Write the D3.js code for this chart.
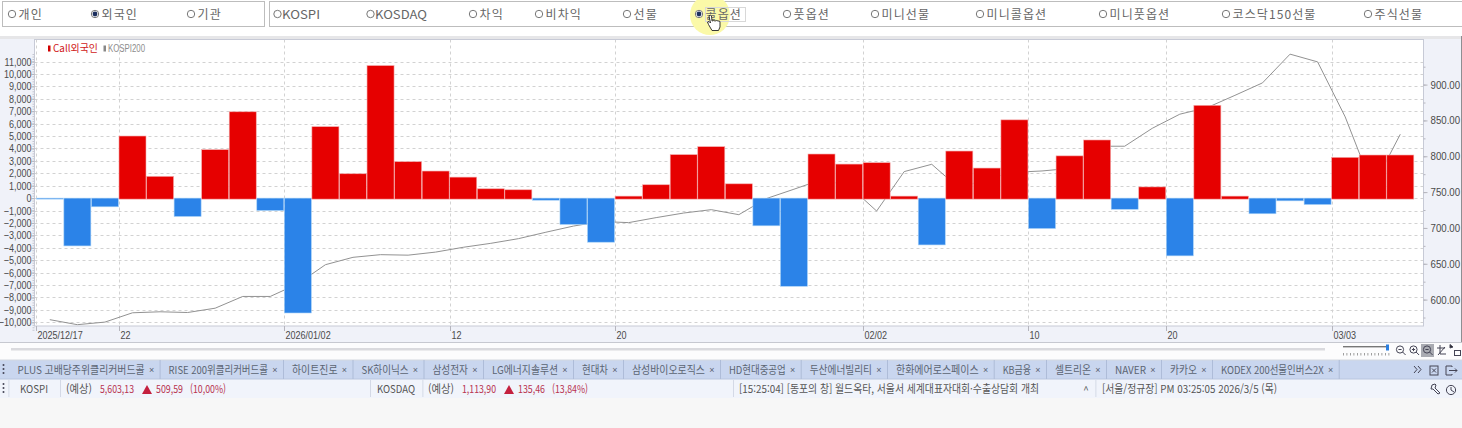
<!DOCTYPE html>
<html lang="ko"><head><meta charset="utf-8">
<style>
html,body{margin:0;padding:0;background:#f7f7f7;overflow:hidden}
svg{display:block}
text{font-family:"Noto Sans CJK KR","Liberation Sans",sans-serif;fill:#444}
.num text,text.num{font-family:"Liberation Sans","DejaVu Sans",sans-serif}
</style>
<script src="https://cdn.jsdelivr.net/npm/d3@7/dist/d3.min.js"></script>
</head><body><svg id="c" width="1462" height="428"></svg>
<script>
const dates=["2025-12-17","2025-12-18","2025-12-19","2025-12-22","2025-12-23","2025-12-24","2025-12-26","2025-12-29","2025-12-30","2026-01-02","2026-01-05","2026-01-06","2026-01-07","2026-01-08","2026-01-09","2026-01-12","2026-01-13","2026-01-14","2026-01-15","2026-01-16","2026-01-19","2026-01-20","2026-01-21","2026-01-22","2026-01-23","2026-01-26","2026-01-27","2026-01-28","2026-01-29","2026-01-30","2026-02-02","2026-02-03","2026-02-04","2026-02-05","2026-02-06","2026-02-09","2026-02-10","2026-02-11","2026-02-12","2026-02-13","2026-02-19","2026-02-20","2026-02-23","2026-02-24","2026-02-25","2026-02-26","2026-02-27","2026-03-03","2026-03-04","2026-03-05"];
const callForeign=[-50,-3850,-700,5000,1750,-1480,3900,6950,-1000,-9250,5750,1960,10670,2930,2180,1690,750,670,-170,-2120,-3550,160,1075,3500,4140,1150,-2230,-7100,3550,2740,2850,160,-3770,3790,2420,6300,-2450,3400,4680,-900,900,-4650,7470,160,-1260,-220,-520,3280,3470,3470];
const kospi200=[572,565,568.6,581.6,583,582,588,604.4,604.4,622,648.7,659,662.7,662,666.3,673,678.5,685,694,702.6,709,707.4,714.4,720.8,725.5,718.5,741,754,767.4,758.6,723.6,778.6,788.8,755,769,777.6,779.5,783,814,814,839,858.7,868,885,902.4,942.5,931.7,855,756.7,830.7];
const tickDates=["2025-12-17","2025-12-22","2026-01-02","2026-01-12","2026-01-20","2026-02-02","2026-02-10","2026-02-20","2026-03-03"];
const tickLabels=["2025/12/17","22","2026/01/02","12","20","02/02","10","20","03/03"];
const leftTicks=d3.range(-10000,11001,1000);
const leftMinor=d3.range(-10600,11800,200);
const rightTicks=[600,650,700,750,800,850,900];
const rightMinor=d3.range(575,950,25);
const radioA=[["개인",12,0],["외국인",95,1],["기관",191,0]];
const radioB=[["KOSPI",277.5,0,38],["KOSDAQ",370.5,0,52],["차익",473,0],["비차익",539,0],["선물",627,0],["콜옵션",699,1],["풋옵션",787,0],["미니선물",875,0],["미니콜옵션",980,0],["미니풋옵션",1103,0],["코스닥150선물",1226,0],["주식선물",1368,0]];
const tabs=["PLUS 고배당주위클리커버드콜","RISE 200위클리커버드콜","하이트진로","SK하이닉스","삼성전자","LG에너지솔루션","현대차","삼성바이오로직스","HD현대중공업","두산에너빌리티","한화에어로스페이스","KB금융","셀트리온","NAVER","카카오","KODEX 200선물인버스2X"];
const tabEnds=[159.6,283,352.5,423.5,483,573,623,720,800.7,887,993.7,1046,1106,1161,1212,1338.7];

const svg=d3.select("#c");
const rect=(x,y,w,h,f,s)=>svg.append("rect").attr("x",x).attr("y",y).attr("width",w).attr("height",h).attr("fill",f).attr("stroke",s||"none");
const txt=(x,y,t,o={})=>{const e=svg.append("text").attr("x",x).attr("y",y).text(t).attr("font-size",o.s||11).attr("text-anchor",o.a||"start").attr("class",o.c||null).style("fill",o.f||"#555").style("letter-spacing",o.l||null);
  if(o.w)e.attr("textLength",o.w).attr("lengthAdjust","spacingAndGlyphs");return e;};
const m={l:34.5,r:1423.5,t:39.5,b:326};
// page regions
rect(0,0,1462,36,"#fff");
rect(0,36,1462,3,"#e6e6e8");
rect(0,39,1462,303,"#f0f2f9");
rect(0,342,1462,18,"#fcfcfd");
svg.append("line").attr("x1",0).attr("x2",1462).attr("y1",342.5).attr("y2",342.5).attr("stroke","#c6c8d0");
rect(11,348,1314,2.5,"#dadade");
rect(0,360,1462,19,"#c9d6ef");
rect(0,379,1462,19,"#f1f4fb");
rect(0,359.5,1462,1,"#d4d8e0");
rect(0,378.5,1462,1,"#b9c6e0");

// control boxes
rect(2.5,1.5,262,25,"#fff","#bdbdbd");
rect(269.5,1.5,1194,25,"#fff","#bdbdbd");
svg.append("circle").attr("cx",710).attr("cy",15).attr("r",20).attr("fill","#fbf9a8");
rect(705.5,7.5,40,14,"none","#d8d8d8");
[...radioA,...radioB].forEach(([t,x,on,w])=>{
  svg.append("circle").attr("cx",x).attr("cy",14).attr("r",3.7).attr("fill",w?"none":"#fff").attr("stroke","#777").attr("stroke-width",1);
  if(on)svg.append("circle").attr("cx",x).attr("cy",14).attr("r",2.4).attr("fill","#1c2f5e");
  w?txt(x+4.5,18.5,t,{s:12,f:"#666",w}):txt(x+6.5,18.5,t,{s:12,l:"1.1px",f:"#666"});
});

// scales
const x=d3.scaleBand().domain(dates).range([36.3,1413.8]).paddingInner(0.02).paddingOuter(0);
const y=d3.scaleLinear().domain([-10000,11000]).range([322.3,61.5]);
const yr=d3.scaleLinear().domain([600,900]).range([299.6,84.6]);
rect(m.l,m.t,m.r-m.l,m.b-m.t,"#fff");
// grid
const grid=svg.append("g").attr("stroke","#d2d2d2").attr("stroke-dasharray","3,3").attr("stroke-width",1);
leftTicks.forEach(v=>grid.append("line").attr("x1",m.l).attr("x2",m.r).attr("y1",Math.round(y(v))+.5).attr("y2",Math.round(y(v))+.5));
tickDates.forEach(d=>grid.append("line").attr("x1",Math.round(x(d))+.5).attr("x2",Math.round(x(d))+.5).attr("y1",m.t).attr("y2",m.b));
// line under bars
svg.append("path").datum(kospi200).attr("fill","none").attr("stroke","#929292").attr("stroke-width",1)
 .attr("d",d3.line().x((d,i)=>x(dates[i])+x.bandwidth()/2).y(d=>yr(d)));
// bars
svg.append("g").selectAll("rect").data(callForeign).join("rect")
 .attr("x",(d,i)=>x(dates[i])).attr("width",x.bandwidth())
 .attr("y",d=>d>=0?y(d):y(0)).attr("height",d=>Math.max(Math.abs(y(d)-y(0)),1)+(d>=0?1:0))
 .attr("fill",d=>d>=0?"#e60000":"#2b83e8").attr("stroke",d=>d>=0?"#f4a8a8":"#a9d2f7").attr("stroke-width",.6);
// frame
rect(m.l,m.t,m.r-m.l,m.b-m.t,"none","#c7cad6");
// axes
svg.append("g").attr("transform",`translate(${m.l},0)`).call(d3.axisLeft(y).tickValues(leftMinor).tickFormat("").tickSize(2)).call(a=>{a.select(".domain").remove();a.selectAll("line").attr("stroke","#c4c6cf");});
svg.append("g").attr("transform",`translate(${m.r},0)`).call(d3.axisRight(yr).tickValues(rightMinor).tickFormat("").tickSize(2)).call(a=>{a.select(".domain").remove();a.selectAll("line").attr("stroke","#b5b5bd");});
const axL=svg.append("g").attr("class","num").attr("transform",`translate(${m.l},0)`).call(d3.axisLeft(y).tickValues(leftTicks).tickFormat(d3.format(",")).tickSize(3).tickPadding(0));
const axR=svg.append("g").attr("class","num").attr("transform",`translate(${m.r},0)`).call(d3.axisRight(yr).tickValues(rightTicks).tickFormat(d3.format(".2f")).tickSize(4).tickPadding(3));
const axB=svg.append("g").attr("class","num").attr("transform",`translate(0,${m.b})`).call(d3.axisBottom(x).tickValues(tickDates).tickFormat(d=>tickLabels[tickDates.indexOf(d)]).tickSize(5).tickPadding(1));
axB.selectAll(".tick").attr("transform",d=>`translate(${Math.round(x(d))+.5},0)`);
axB.selectAll("text").attr("text-anchor","start").attr("x",1).attr("y",5);
[[axL,.82],[axR,.88],[axB,.82]].forEach(([a,k])=>{a.select(".domain").remove();a.selectAll("line").attr("stroke","#b5b5bd");
  a.selectAll("text").attr("font-size",11).style("fill","#4a4a4a").each(function(){
    const n=this.getComputedTextLength();
    d3.select(this).attr("textLength",n*k).attr("lengthAdjust","spacingAndGlyphs");});});
// right edge of the window
rect(1461,36,1,306,"#8e8e92");
// legend
rect(48,45.5,2.5,6,"#d00000");
txt(53,52,"Call외국인",{s:10,f:"#d01818",w:45});
rect(103.5,45.5,2.5,6,"#888");
txt(108,52,"KOSPI200",{s:10,c:"num",f:"#8c8c8c",w:37});

// tabs
tabs.forEach((t,i)=>{
  const start=i?tabEnds[i-1]:8.6;
  txt(start+9,373.5,t,{s:11,f:"#5b6472",w:tabEnds[i]-start-9-15});
  txt(tabEnds[i]-8,372.5,"×",{s:9,a:"middle",c:"num",f:"#5b6472"});
  rect(tabEnds[i],360,1,19,"#aebcd8");
});
[365,369,373,384,388,392].forEach(p=>svg.append("circle").attr("cx",3.5).attr("cy",p).attr("r",1).attr("fill","#445"));
// status row
[8.5,60,370,422.5,733,1095.5].forEach(p=>rect(p,380,.8,17,"#cdd3e2"));
const red="#b8324f";
txt(20,393,"KOSPI",{s:11,w:28});
txt(66,393,"(예상)",{s:11,w:26});
txt(100,393,"5,603,13",{s:11,f:red,w:34});
txt(156,393,"509,59",{s:11,f:red,w:27});
txt(190,393,"(10,00%)",{s:11,f:red,w:36});
txt(377,393,"KOSDAQ",{s:11,w:38});
txt(428,393,"(예상)",{s:11,w:26});
txt(462,393,"1,113,90",{s:11,f:red,w:34});
txt(518,393,"135,46",{s:11,f:red,w:27});
txt(552,393,"(13,84%)",{s:11,f:red,w:36});
[147,509].forEach(c=>svg.append("path").attr("d",`M${c-5},394 L${c},385 L${c+5},394 Z`).attr("fill","#c4203f"));
txt(739,393,"[15:25:04] [동포의 창] 월드옥타, 서울서 세계대표자대회·수출상담회 개최",{s:11,f:"#555",w:300});
txt(1086,394,"^",{s:10,a:"middle"});
txt(1102,393,"[서울/정규장] PM 03:25:05  2026/3/5 (목)",{s:11,f:"#555",w:175});

// toolbar glyphs
rect(1343,346,45,1.4,"#777");
rect(1386,344.5,3,6,"#2b7fe0");
d3.range(1343,1391,3.5).forEach(p=>rect(p,353,.8,2.5,"#888"));
rect(1421,344,13,13,"#a9abb2");
const ic2=svg.append("g").attr("fill","none").attr("stroke","#445").attr("stroke-width",1);
[1400,1413.5,1427].forEach(c=>{ic2.append("circle").attr("cx",c).attr("cy",349.5).attr("r",3.6);ic2.append("path").attr("d",`M${c+2.6},352 l3,3 M${c-1.6},349.5 h3.2`);});
ic2.append("path").attr("d","M1413.5,347.9 v3.2 M1437,348 h8 M1440,345 v9 h6 M1438,355 l7,-8");
ic2.append("rect").attr("x",1454.5).attr("y",350.5).attr("width",6).attr("height",5);
ic2.append("path").attr("d","M1450,344.5 l3,2.5 -3,1 z").attr("fill","#222");
ic2.append("path").attr("d","M1414,366 l3,3.5 -3,3.5 M1418,366 l3,3.5 -3,3.5");
ic2.append("rect").attr("x",1430).attr("y",366).attr("width",8).attr("height",9);
ic2.append("path").attr("d","M1432,368.5 l4,4 M1436,368.5 l-4,4 M1452,367 v-1 h-6 v9 h6 v-1 M1449,370.5 h8 M1455,368.5 l2,2 -2,2");
ic2.append("path").attr("d","M1432,385 l3,-1 1,1 -1,3 5,5 -2,1 -5,-5 -2,0 z");
ic2.append("circle").attr("cx",1451).attr("cy",390).attr("r",4.6);
ic2.append("path").attr("d","M1451,387 v3 l3,2");
// pointer
svg.append("path").attr("d","M709,16 q1,-2 2.5,0 l.5,5 q2,-1 3,0 q2,-1 3,0 q2,-.5 2,1 v5 l-1.5,3.5 h-6.5 l-3.5,-6 l-1,-2.5 l1.5,-.5 l1.5,1.5 z").attr("fill","#fff").attr("stroke","#222").attr("stroke-width",.9);
</script></body></html>
